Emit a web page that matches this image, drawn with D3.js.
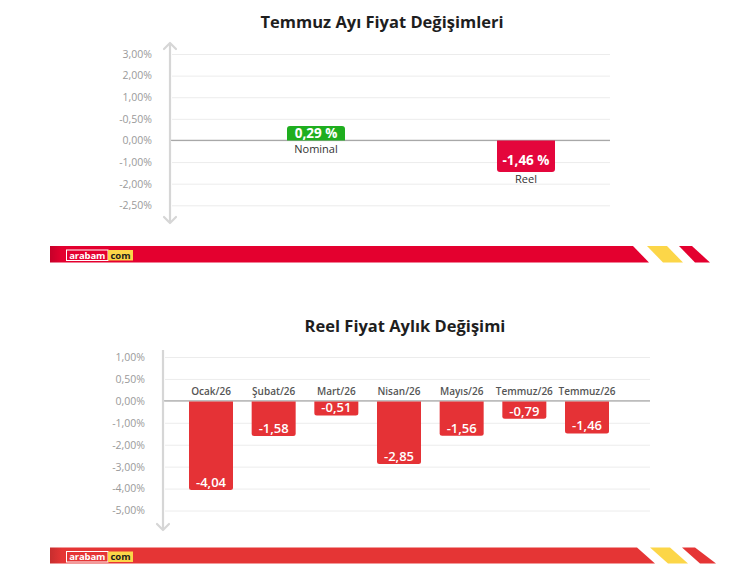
<!DOCTYPE html>
<html>
<head>
<meta charset="utf-8">
<script src="https://cdn.jsdelivr.net/npm/d3@7"></script>
<style>
  body { margin: 0; background: #fff; }
  svg { display: block; font-family: "Open Sans", Lato, sans-serif; }
</style>
</head>
<body>
<div class="chart-container"></div>
<script>
//! DATA
const topCategories = ['Nominal', 'Reel'];
const topValues = [0.29, -1.46];
const topTicks = ['3,00%', '2,00%', '1,00%', '-0,50%', '0,00%', '-1,00%', '-2,00%', '-2,50%'];

const monthCategories = ['Ocak/26', 'Şubat/26', 'Mart/26', 'Nisan/26', 'Mayıs/26', 'Temmuz/26', 'Temmuz/26'];
const monthValues = [-4.04, -1.58, -0.51, -2.85, -1.56, -0.79, -1.46];
const monthTicks = ['1,00%', '0,50%', '0,00%', '-1,00%', '-2,00%', '-3,00%', '-4,00%', '-5,00%'];

//! CONSTS
const width = 751;
const height = 572;
const comma = (v) => v.toFixed(2).replace('.', ',');

const svg = d3.select('.chart-container')
  .append('svg')
  .attr('width', width)
  .attr('height', height);

// path for a box with only top or bottom corners rounded
const boxPath = (x, y, w, h, r, roundTop) => {
  if (roundTop) {
    return `M${x},${y + h}V${y + r}Q${x},${y} ${x + r},${y}H${x + w - r}Q${x + w},${y} ${x + w},${y + r}V${y + h}Z`;
  }
  return `M${x},${y}H${x + w}V${y + h - r}Q${x + w},${y + h} ${x + w - r},${y + h}H${x + r}Q${x},${y + h} ${x},${y + h - r}Z`;
};

// draws tick labels, grid lines, zero line and the arrowed axis
function drawFrame(ticks, yRange, axisX, gridEnd, axisTop, axisBottom, arrowTop) {
  const tickY = d3.scalePoint().domain(ticks).range(yRange);

  svg.append('g')
    .attr('transform', `translate(${gridEnd},0)`)
    .call(d3.axisLeft(tickY).tickSize(gridEnd - axisX - 2).tickFormat(''))
    .call(g => g.select('.domain').remove())
    .call(g => g.selectAll('line').attr('stroke', '#ececec'));

  svg.append('g')
    .attr('transform', `translate(${axisX},0)`)
    .call(d3.axisLeft(tickY).tickSize(0).tickPadding(18))
    .call(g => g.select('.domain').remove())
    .call(g => g.selectAll('text')
      .attr('fill', '#9a9a9a')
      .style('font-size', '10.5px')
      .style('font-family', '"Open Sans", sans-serif'));

  // linear value scale: one unit per grid step, anchored on 0,00% and -1,00%
  const y = d3.scaleLinear()
    .domain([0, -1])
    .range([tickY('0,00%'), tickY('-1,00%')]);

  svg.append('line')
    .attr('x1', axisX).attr('x2', gridEnd)
    .attr('y1', y(0)).attr('y2', y(0))
    .attr('stroke', '#a8a8a8').attr('stroke-width', 1.2);

  svg.append('line')
    .attr('x1', axisX).attr('x2', axisX)
    .attr('y1', axisTop).attr('y2', axisBottom)
    .attr('stroke', '#d6d6d6').attr('stroke-width', 2.2);

  const arrow = (tipY, dir) => svg.append('path')
    .attr('d', `M${axisX - 6},${tipY + dir * 6}L${axisX},${tipY}L${axisX + 6},${tipY + dir * 6}`)
    .attr('fill', 'none').attr('stroke', '#d6d6d6').attr('stroke-width', 2.2)
    .attr('stroke-linecap', 'round').attr('stroke-linejoin', 'round');
  if (arrowTop) arrow(axisTop, 1);
  arrow(axisBottom, -1);

  return y;
}

function drawBanner(y0, h, color, redTop, redBottom, yellow, stripe) {
  const grad = svg.append('defs').append('linearGradient')
    .attr('id', 'g' + Math.round(y0)).attr('x1', 0).attr('x2', 1);
  grad.append('stop').attr('offset', 0).attr('stop-color', d3.color(color).darker(0.4));
  grad.append('stop').attr('offset', 0.02).attr('stop-color', color);
  grad.append('stop').attr('offset', 1).attr('stop-color', color);

  svg.append('path')
    .attr('d', `M50,${y0}H${redTop}L${redBottom},${y0 + h}H50Z`)
    .attr('fill', `url(#g${Math.round(y0)})`);
  svg.append('path')
    .attr('d', `M${yellow[0]},${y0}H${yellow[1]}L${yellow[3]},${y0 + h}H${yellow[2]}Z`)
    .attr('fill', '#fcd648');
  svg.append('path')
    .attr('d', `M${stripe[0]},${y0}H${stripe[1]}L${stripe[3]},${y0 + h}H${stripe[2]}Z`)
    .attr('fill', color);

  // logo
  const ly = y0 + 4;
  svg.append('rect')
    .attr('x', 66.5).attr('y', ly).attr('width', 41.5).attr('height', 10.5)
    .attr('fill', 'none').attr('stroke', '#fff').attr('stroke-width', 1);
  svg.append('text')
    .attr('x', 87.3).attr('y', ly + 8.5).attr('text-anchor', 'middle')
    .attr('fill', '#fff').style('font-size', '9.5px').style('font-weight', 700)
    .attr('textLength', 36)
    .text('arabam');
  svg.append('rect')
    .attr('x', 108).attr('y', ly).attr('width', 25).attr('height', 10.5)
    .attr('fill', '#fcd648');
  svg.append('text')
    .attr('x', 120.5).attr('y', ly + 8.5).attr('text-anchor', 'middle')
    .attr('fill', '#1c1c1c').style('font-size', '9.5px').style('font-weight', 700)
    .text('com');
}

//! TOP CHART
svg.append('text')
  .attr('x', 382).attr('y', 28)
  .attr('text-anchor', 'middle')
  .attr('fill', '#1e1e1e')
  .style('font-size', '16.5px').style('font-weight', 700)
  .text('Temmuz Ayı Fiyat Değişimleri');

const yTop = drawFrame(topTicks, [54, 205.3], 170, 610, 43, 223, true);

const xTop = d3.scalePoint().domain(topCategories).range([316, 526]);
const topBoxW = 58;
const topMinH = 14.5;

const topData = topCategories.map((c, i) => ({ c, v: topValues[i] }));

topData.forEach(d => {
  const hgt = Math.max(Math.abs(yTop(d.v) - yTop(0)), topMinH);
  const pos = d.v >= 0;
  const x0 = xTop(d.c) - topBoxW / 2;
  const y0 = pos ? yTop(0) - hgt : yTop(0);
  svg.append('path')
    .attr('d', boxPath(x0, y0, topBoxW, hgt, 3, pos))
    .attr('fill', pos ? '#1fae1f' : '#e4063c');
  svg.append('text')
    .attr('x', xTop(d.c)).attr('y', pos ? yTop(0) - 2.3 : y0 + hgt - 7)
    .attr('text-anchor', 'middle')
    .attr('fill', '#fff')
    .style('font-size', '13.5px').style('font-weight', 700)
    .text(`${comma(d.v)} %`);
  svg.append('text')
    .attr('x', xTop(d.c)).attr('y', pos ? yTop(0) + 12.5 : y0 + hgt + 11)
    .attr('text-anchor', 'middle')
    .attr('fill', '#333')
    .style('font-size', '11px')
    .text(d.c);
});

drawBanner(246, 16.5, '#e4002f', 633, 649, [647, 667, 663, 683], [679, 692, 695, 710]);

//! BOTTOM CHART
svg.append('text')
  .attr('x', 405).attr('y', 332)
  .attr('text-anchor', 'middle')
  .attr('fill', '#1e1e1e')
  .style('font-size', '16.5px').style('font-weight', 700)
  .text('Reel Fiyat Aylık Değişimi');

const yMon = drawFrame(monthTicks, [357, 510.5], 163, 650, 350, 530, false);

const xMon = d3.scalePoint().domain(d3.range(monthCategories.length)).range([211, 587]);
const barW = 44;
const barMinH = 14;

monthValues.forEach((v, i) => {
  const hgt = Math.max(yMon(v) - yMon(0), barMinH);
  const x0 = xMon(i) - barW / 2;
  svg.append('path')
    .attr('class', 'bar')
    .attr('d', boxPath(x0, yMon(0) + 0.6, barW, hgt, 2.5, false))
    .attr('fill', '#e53236');
  svg.append('text')
    .attr('x', xMon(i)).attr('y', yMon(0) + hgt - 2.5)
    .attr('text-anchor', 'middle')
    .attr('fill', '#fff')
    .style('font-size', '13px').style('font-weight', 600)
    .text(comma(v));
  svg.append('text')
    .attr('x', xMon(i)).attr('y', yMon(0) - 6)
    .attr('text-anchor', 'middle')
    .attr('fill', '#555')
    .style('font-size', '10px').style('font-weight', 600)
    .text(monthCategories[i]);
});

drawBanner(547.5, 16, '#e53535', 637, 655, [650, 670, 668, 688], [682, 695, 700, 716]);
</script>
</body>
</html>
